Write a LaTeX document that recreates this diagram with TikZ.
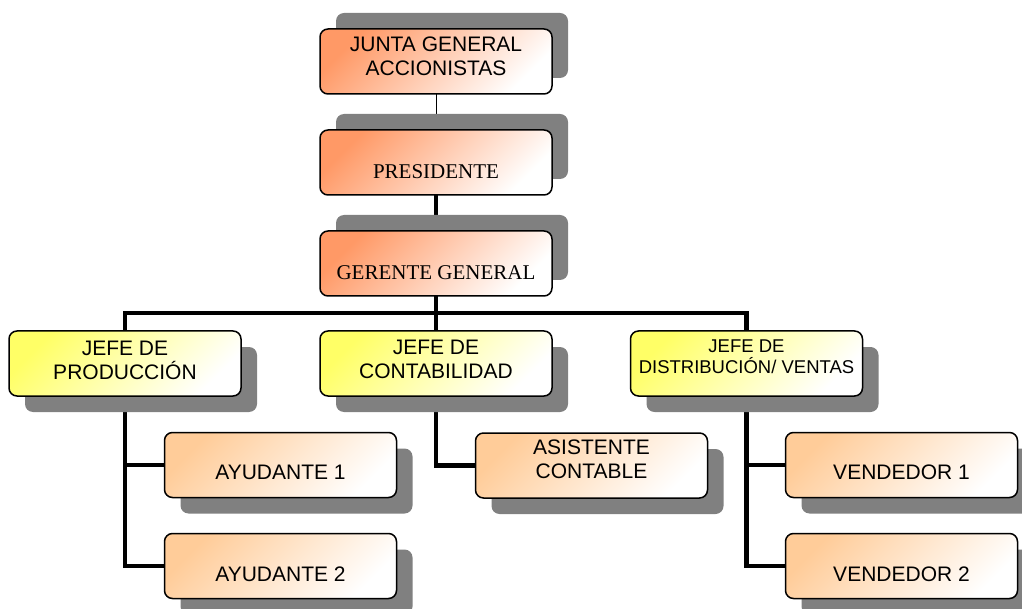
\documentclass[tikz,border=0pt]{standalone}
\usepackage{fontspec}
\setmainfont{Liberation Sans}
\newfontfamily\timesfont{Liberation Serif}

% connectors below the shadows, shadows below the boxes
\pgfdeclarelayer{wires}
\pgfdeclarelayer{shade}
\pgfsetlayers{wires,shade,main}

\definecolor{salmon}{RGB}{255,153,102}
\definecolor{lemon}{RGB}{255,255,102}
\definecolor{peach}{RGB}{255,204,153}
\definecolor{shadowgray}{RGB}{128,128,128}

\tikzset{
  box/.style={draw=black, line width=1.5pt, rounded corners=8pt,
    minimum width=232pt, minimum height=65pt, inner sep=0pt, outer sep=0pt},
  topbox/.style={box, top color=salmon, bottom color=white, shading angle=45},
  chiefbox/.style={box, top color=lemon, bottom color=white, shading angle=45},
  staffbox/.style={box, top color=peach, bottom color=white, shading angle=45},
  label/.style={align=center, inner sep=0pt, outer sep=0pt,
    font=\fontsize{21}{24}\selectfont},
  seriflabel/.style={label, font=\timesfont\fontsize{21}{24}\selectfont},
  smalllabel/.style={label, font=\fontsize{18.5}{21}\selectfont},
  wire/.style={line width=4.5pt, line join=miter},
  thinwire/.style={line width=1pt},
}

% grey shadow of a box, shifted by (16pt, #2)
\newcommand\boxshadow[2]{%
  \fill[shadowgray, rounded corners=8pt]
    ([shift={(16pt,#2)}]#1.south west) rectangle ([shift={(16pt,#2)}]#1.north east);}

\begin{document}
\begin{tikzpicture}[x=1pt, y=-1pt]
  \clip (0,0) rectangle (1022,609);

  % boxes
  \node[topbox]   (junta) at (436,61.5)  {};
  \node[topbox]   (pres)  at (436,162.5) {};
  \node[topbox]   (ger)   at (436,263.5) {};
  \node[chiefbox] (prod)  at (125,363.5) {};
  \node[chiefbox] (cont)  at (436,363.5) {};
  \node[chiefbox] (dist)  at (746.5,363.5) {};
  \node[staffbox] (ayu1)  at (280.5,465) {};
  \node[staffbox] (ayu2)  at (280.5,566) {};
  \node[staffbox] (asis)  at (591.5,465.5) {};
  \node[staffbox] (ven1)  at (901.5,465) {};
  \node[staffbox] (ven2)  at (901.5,566) {};

  % texts
  \node[label]      (juntaT) at (436,56.4)   {JUNTA GENERAL\\ACCIONISTAS};
  \node[seriflabel] (presT)  at (436,171.2)  {PRESIDENTE};
  \node[seriflabel] (gerT)   at (436,272.2)  {GERENTE GENERAL};
  \node[label]      (prodT)  at (125,359.9)  {JEFE DE\\PRODUCCIÓN};
  \node[label]      (contT)  at (436,359.4)  {JEFE DE\\CONTABILIDAD};
  \node[smalllabel] (distT)  at (746.5,356.7) {JEFE DE\\DISTRIBUCIÓN/ VENTAS};
  \node[label]      (ayu1T)  at (280.5,472.4) {AYUDANTE 1};
  \node[label]      (ayu2T)  at (280.5,574.4) {AYUDANTE 2};
  \node[label]      (asisT)  at (591.5,458.9) {ASISTENTE\\CONTABLE};
  \node[label]      (ven1T)  at (901.5,472.4) {VENDEDOR 1};
  \node[label]      (ven2T)  at (901.5,574.4) {VENDEDOR 2};

  % shadows
  \begin{pgfonlayer}{shade}
    \boxshadow{junta}{16pt}
    \boxshadow{pres}{16pt}
    \boxshadow{ger}{16pt}
    \boxshadow{prod}{-16pt}
    \boxshadow{cont}{-16pt}
    \boxshadow{dist}{-16pt}
    \boxshadow{ayu1}{-16pt}
    \boxshadow{ayu2}{-16pt}
    \boxshadow{asis}{-16pt}
    \boxshadow{ven1}{-16pt}
    \boxshadow{ven2}{-16pt}
  \end{pgfonlayer}

  % connectors
  \coordinate (bus) at (436,313);
  \begin{pgfonlayer}{wires}
    \draw[thinwire] (junta) -- (pres);
    \draw[wire] (pres) -- (ger);
    \draw[wire] (ger.south) -- (bus);
    \draw[wire] (prod.north) |- (bus) -| (dist.north);
    \draw[wire] (bus) -- (cont.north);
    \draw[wire] (prod.south) |- (ayu2.west);
    \draw[wire] (prod.south |- ayu1.west) -- (ayu1.west);
    \draw[wire] (cont.south) |- (asis.west);
    \draw[wire] (dist.south) |- (ven2.west);
    \draw[wire] (dist.south |- ven1.west) -- (ven1.west);
  \end{pgfonlayer}
\end{tikzpicture}
\end{document}
